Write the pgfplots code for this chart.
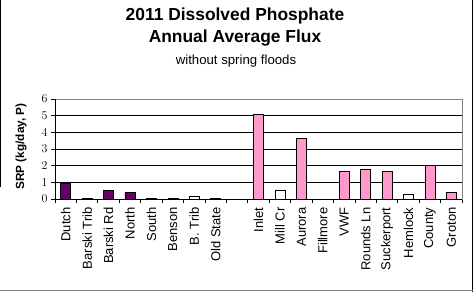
\documentclass[border=0pt]{standalone}
\usepackage{fontspec}
\setmainfont{Liberation Sans}
\usepackage{pgfplots}
\pgfplotsset{compat=1.18}
\definecolor{purp}{HTML}{660066}
\definecolor{pinkb}{HTML}{FF99CC}
\begin{document}
\begin{tikzpicture}[x=1pt,y=1pt]
\useasboundingbox (0,0) rectangle (473,292);
\fill[white] (0,0) rectangle (473,292);
\draw[black,line width=1pt] (472.3,0) -- (472.3,292);
\draw[black,line width=1pt] (0.6,292) -- (0.6,105);
\draw[gray,line width=1pt] (0,1.8) -- (473,1.8);
\node[anchor=base,font=\fontsize{17.4}{19}\selectfont\bfseries] at (235,271.3) {2011 Dissolved Phosphate};
\node[anchor=base,font=\fontsize{17.4}{19}\selectfont\bfseries] at (235,249) {Annual Average Flux};
\node[anchor=base,font=\fontsize{13.2}{15}\selectfont] at (236,227) {without spring floods};
\begin{axis}[
  at={(55pt,93pt)}, anchor=south west,
  scale only axis, width=407pt, height=100pt,
  xmin=-0.5, xmax=18.5, ymin=0, ymax=6,
  ytick={0,1,2,3,4,5,6},
  ymajorgrids, grid style={black,line width=0.8pt},
  axis line style={gray,line width=0.9pt},
  tick align=outside, major tick length=4pt,
  tick style={black,line width=0.8pt},
  xtick pos=bottom, ytick pos=left,
  xtick={-0.5,0.5,1.5,2.5,3.5,4.5,5.5,6.5,7.5,8.5,9.5,10.5,11.5,12.5,13.5,14.5,15.5,16.5,17.5,18.5},
  xticklabels={},
  extra x ticks={0,1,2,3,4,5,6,7,9,10,11,12,13,14,15,16,17,18},
  extra x tick labels={Dutch,Barski Trib,Barski Rd,North,South,Benson,B. Trib,Old State,Inlet,Mill Cr,Aurora,Fillmore,VWF,Rounds Ln,Suckerport,Hemlock,County,Groton},
  extra x tick style={major tick length=0pt, xticklabel shift=5pt, tick label style={rotate=90,anchor=east,font=\fontsize{13}{15}\selectfont}},
  yticklabel style={font=\fontsize{12}{14}\selectfont},
  ylabel={SRP (kg/day, P)},
  ylabel style={font=\fontsize{11.8}{13}\selectfont\bfseries, at={(axis description cs:-0.083,0.525)}, anchor=center},
  ybar, bar width=10pt, bar shift=0pt,
  clip=false,
]
\addplot[fill=purp, draw=black, line width=0.6pt] coordinates {(0,0.92) (1,0.05) (2,0.52) (3,0.42) (4,0.05) (5,0.05) (7,0.05)};
\addplot[fill=white, draw=black, line width=0.6pt] coordinates {(6,0.14) (10,0.52) (16,0.28)};
\addplot[fill=pinkb, draw=black, line width=0.6pt] coordinates {(9,5.1) (11,3.66) (13,1.64) (14,1.8) (15,1.64) (17,2.0) (18,0.42)};
\draw[black,line width=0.9pt] (rel axis cs:0,0) -- (rel axis cs:0,1);
\draw[black,line width=0.9pt] (rel axis cs:0,0) -- (rel axis cs:1,0);
\end{axis}
\end{tikzpicture}
\end{document}
